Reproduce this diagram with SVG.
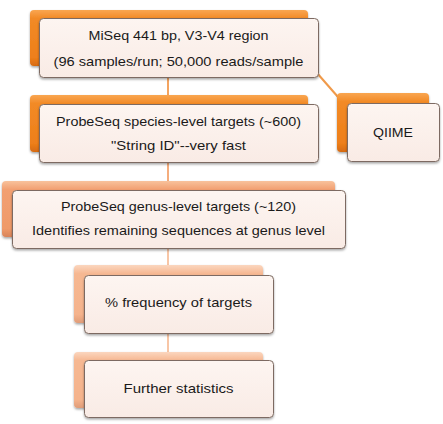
<svg xmlns="http://www.w3.org/2000/svg" width="443" height="424" viewBox="0 0 443 424">
<defs>
<linearGradient id="gOr" x1="0" y1="0" x2="0" y2="1">
<stop offset="0" stop-color="#f9a651"/><stop offset="0.15" stop-color="#f28a26"/><stop offset="0.85" stop-color="#ee7f1a"/><stop offset="1" stop-color="#d66a10"/>
</linearGradient>
<linearGradient id="gMid" x1="0" y1="0" x2="0" y2="1">
<stop offset="0" stop-color="#f8c29c"/><stop offset="0.15" stop-color="#f2a072"/><stop offset="0.85" stop-color="#ef9a6a"/><stop offset="1" stop-color="#d8845a"/>
</linearGradient>
<linearGradient id="gPale" x1="0" y1="0" x2="0" y2="1">
<stop offset="0" stop-color="#fbd6bf"/><stop offset="0.15" stop-color="#f6b892"/><stop offset="0.85" stop-color="#f5b38c"/><stop offset="1" stop-color="#e09c78"/>
</linearGradient>
<linearGradient id="gFront" x1="0" y1="0" x2="0" y2="1">
<stop offset="0" stop-color="#fdf5f1"/><stop offset="1" stop-color="#f9ebe5"/>
</linearGradient>
<filter id="sh" x="-10%" y="-10%" width="120%" height="130%">
<feDropShadow dx="0" dy="1.5" stdDeviation="1.2" flood-color="#000" flood-opacity="0.35"/>
</filter>
</defs>
<style>
.f{fill:url(#gFront);stroke:#7d6b62;stroke-width:1;filter:url(#sh)}
.bo{fill:url(#gOr);filter:url(#sh)}
.bm{fill:url(#gMid);filter:url(#sh)}
.bp{fill:url(#gPale);filter:url(#sh)}
text{font-family:"Liberation Sans","Open Sans",sans-serif;font-size:13.5px;fill:#1a1a1a;text-anchor:middle}
.c{fill:none;stroke-width:2}
</style>
<g id="connectors">
<line class="c" x1="168" y1="78" x2="168" y2="96" stroke="#f4a460"/>
<line class="c" x1="168" y1="163" x2="168" y2="182" stroke="#f5ad7d"/>
<line class="c" x1="168" y1="249" x2="168" y2="266" stroke="#f8c6a6"/>
<line class="c" x1="168" y1="333" x2="168" y2="353" stroke="#f8c6a6"/>
<line class="c" x1="317" y1="73" x2="338" y2="97" stroke="#f09a4a"/>
</g>
<g id="node1">
<rect class="bo" x="30" y="10" width="278" height="56" rx="4"/>
<rect class="f" x="39.5" y="18.5" width="279" height="59" rx="4"/>
<text x="178.5" y="40" textLength="180" lengthAdjust="spacingAndGlyphs">MiSeq 441 bp, V3-V4 region</text>
<text x="178.5" y="66" textLength="250" lengthAdjust="spacingAndGlyphs">(96 samples/run; 50,000 reads/sample</text>
</g>
<g id="node2">
<rect class="bo" x="30" y="95" width="278" height="57" rx="4"/>
<rect class="f" x="39.5" y="104.5" width="279" height="58" rx="4"/>
<text x="178.5" y="126" textLength="245" lengthAdjust="spacingAndGlyphs">ProbeSeq  species-level targets (~600)</text>
<text x="178.5" y="150" textLength="135" lengthAdjust="spacingAndGlyphs">"String ID"--very fast</text>
</g>
<g id="node3">
<rect class="bm" x="2" y="181" width="333" height="56" rx="4"/>
<rect class="f" x="12.5" y="190.5" width="333" height="58" rx="4"/>
<text x="178.5" y="211" textLength="235" lengthAdjust="spacingAndGlyphs">ProbeSeq  genus-level targets (~120)</text>
<text x="178.5" y="235" textLength="293" lengthAdjust="spacingAndGlyphs">Identifies remaining sequences at genus level</text>
</g>
<g id="node4">
<rect class="bp" x="74" y="265" width="189" height="58" rx="4"/>
<rect class="f" x="84.5" y="275.5" width="189" height="58" rx="4"/>
<text x="178.5" y="307" textLength="147" lengthAdjust="spacingAndGlyphs">% frequency of targets</text>
</g>
<g id="node5">
<rect class="bp" x="74" y="352" width="189" height="56" rx="4"/>
<rect class="f" x="84.5" y="360.5" width="189" height="57" rx="4"/>
<text x="178.5" y="393" textLength="110" lengthAdjust="spacingAndGlyphs">Further statistics</text>
</g>
<g id="node6">
<rect class="bo" x="337" y="93" width="92" height="59" rx="4"/>
<rect class="f" x="347.5" y="103.5" width="92" height="58" rx="4"/>
<text x="393" y="137" textLength="40" lengthAdjust="spacingAndGlyphs">QIIME</text>
</g>
</svg>
